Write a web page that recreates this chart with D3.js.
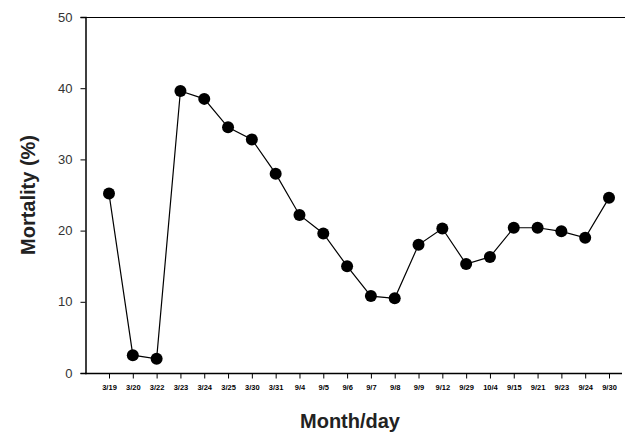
<!DOCTYPE html>
<html><head><meta charset="utf-8">
<script src="https://cdn.jsdelivr.net/npm/d3@7"></script>
<style>body{margin:0;background:#fff}svg{display:block}</style>
</head><body><svg id="c" width="625" height="436"></svg>
<script>
const dates = ["3/19","3/20","3/22","3/23","3/24","3/25","3/30","3/31","9/4","9/5","9/6","9/7","9/8","9/9","9/12","9/29","10/4","9/15","9/21","9/23","9/24","9/30"];
const mortality = [25.2,2.5,2.0,39.6,38.5,34.5,32.8,28.0,22.2,19.6,15.0,10.8,10.5,18.0,20.3,15.3,16.3,20.4,20.4,19.9,19.0,24.6];
const yTicks = [0,10,20,30,40,50];

const svg = d3.select("#c");
const x = d3.scalePoint().domain(dates).range([109,609]);
const y = d3.scaleLinear().domain([0,50]).range([373,17]);

svg.append("line").attr("x1",85).attr("x2",625).attr("y1",17.5).attr("y2",17.5).attr("stroke","#000").attr("stroke-width",1.2);

const ya = svg.append("g").attr("transform","translate(85.5,0)")
  .call(d3.axisLeft(y).tickValues(yTicks).tickSize(5).tickPadding(8));
ya.select(".domain").attr("stroke-width",1.5);
ya.selectAll("text").attr("font-family","Liberation Sans, Arial, sans-serif").attr("font-size",13).attr("fill","#333");

const xa = svg.append("g").attr("transform","translate(0,373.5)")
  .call(d3.axisBottom(x).tickSize(5).tickPadding(6).tickSizeOuter(0));
xa.select(".domain").attr("d","M85,0H622").attr("stroke-width",1.5);
xa.selectAll("text").attr("font-family","Liberation Sans, Arial, sans-serif").attr("font-size",7.5).attr("font-weight","bold").attr("fill","#000");

const line = d3.line().x((d,i)=>x(dates[i])).y(d=>y(d));
svg.append("path").datum(mortality).attr("d",line).attr("fill","none").attr("stroke","#000").attr("stroke-width",1.2);
svg.selectAll("circle.pt").data(mortality).join("circle").attr("class","pt")
  .attr("cx",(d,i)=>x(dates[i])).attr("cy",d=>y(d)).attr("r",6).attr("fill","#000");

svg.append("text").attr("transform","translate(35,195) rotate(-90)").attr("text-anchor","middle")
  .attr("font-family","Liberation Sans, Arial, sans-serif").attr("font-weight","bold").attr("font-size",20).attr("fill","#222")
  .text("Mortality (%)");
svg.append("text").attr("x",350).attr("y",428).attr("text-anchor","middle")
  .attr("font-family","Liberation Sans, Arial, sans-serif").attr("font-weight","bold").attr("font-size",20).attr("fill","#222")
  .text("Month/day");
</script></body></html>
